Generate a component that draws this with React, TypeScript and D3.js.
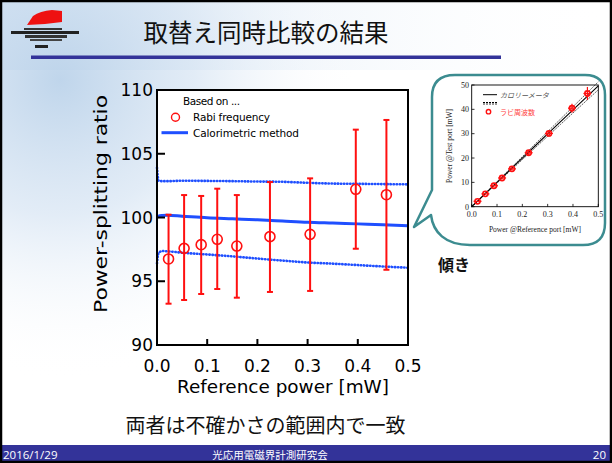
import React from "react";
import * as d3 from "d3";

// Rabi-frequency measurements: reference power [mW] and splitting ratio with error limits
const refPower = [0.023, 0.054, 0.088, 0.12, 0.159, 0.225, 0.305, 0.396, 0.457];
const rabiRatio = [96.75, 97.58, 97.87, 98.29, 97.76, 98.5, 98.68, 102.21, 101.79];
const rabiHigh = [100.22, 101.76, 101.69, 102.26, 101.76, 102.78, 103.07, 106.89, 107.65];
const rabiLow = [93.24, 93.53, 94.0, 94.39, 93.71, 94.16, 94.24, 97.55, 95.9];

// Calorimetric method: ratio curve with its upper / lower uncertainty bounds
const calPower = [0, 0.003, 0.01, 0.02, 0.05, 0.1, 0.15, 0.2, 0.25, 0.3, 0.35, 0.4, 0.45, 0.5];
const calRatio = [100.0, 100.1, 100.15, 100.17, 100.1, 99.98, 99.9, 99.82, 99.72, 99.62, 99.56, 99.5, 99.44, 99.36];
const calUpper = [103.9, 102.9, 102.85, 102.85, 102.88, 102.87, 102.85, 102.82, 102.8, 102.72, 102.66, 102.64, 102.62, 102.6];
const calLower = [96.4, 97.2, 97.37, 97.35, 97.24, 97.1, 96.95, 96.78, 96.62, 96.47, 96.38, 96.27, 96.16, 96.06];

const xTicks = [0, 0.1, 0.2, 0.3, 0.4, 0.5];
const yTicks = [90, 95, 100, 105, 110];
const insetXTicks = [0, 0.1, 0.2, 0.3, 0.4, 0.5];
const insetYTicks = [0, 10, 20, 30, 40, 50];

const title = "取替え同時比較の結果";
const conclusion = "両者は不確かさの範囲内で一致";
const footerDate = "2016/1/29";
const footerName = "光応用電磁界計測研究会";
const pageNo = "20";

const LATIN = "'DejaVu Sans', 'Open Sans', sans-serif";
const JP = "'Noto Sans CJK JP', sans-serif";
const SERIF = "'Liberation Serif', 'DejaVu Serif', serif";

export default function App() {
  const x = d3.scaleLinear().domain([0, 0.5]).range([157, 408]);
  const y = d3.scaleLinear().domain([90, 110]).range([345, 90]);

  const calLine = (vals: number[]) =>
    d3
      .line<number>()
      .x((_, i) => x(calPower[i]))
      .y((v) => y(v))
      .curve(d3.curveMonotoneX)(vals) as string;

  // inset: test-port power = reference power × ratio (ratio in %, power in mW → ×100)
  const ix = d3.scaleLinear().domain([0, 0.5]).range([471.7, 598.3]);
  const iy = d3.scaleLinear().domain([0, 50]).range([206.7, 85]);
  const insetLine = (vals: number[]) =>
    d3
      .line<number>()
      .x((_, i) => ix(calPower[i]))
      .y((v, i) => iy(calPower[i] * v))(vals) as string;

  const blue = "#1f4fff";
  const red = "#ff1010";

  return (
    <svg
      width={612}
      height={463}
      viewBox="0 0 612 463"
      style={{ position: "fixed", left: 0, top: 0, display: "block" }}
    >
      <defs>
        <radialGradient id="wash" cx="60" cy="80" r="300" gradientUnits="userSpaceOnUse">
          <stop offset="0" stopColor="#bcd3ea" stopOpacity={0.95} />
          <stop offset="0.45" stopColor="#d6e4f3" stopOpacity={0.7} />
          <stop offset="1" stopColor="#ffffff" stopOpacity={0} />
        </radialGradient>
        <linearGradient id="band" x1="0" x2="1" y1="0" y2="0">
          <stop offset="0" stopColor="#c7dbee" stopOpacity={0.9} />
          <stop offset="0.5" stopColor="#e6eff8" stopOpacity={0.5} />
          <stop offset="1" stopColor="#ffffff" stopOpacity={0} />
        </linearGradient>
      </defs>

      {/* slide background */}
      <rect x={0} y={0} width={612} height={463} fill="#ffffff" />
      <rect x={0} y={0} width={612} height={70} fill="url(#band)" />
      <rect x={0} y={0} width={612} height={445} fill="url(#wash)" />

      {/* logo */}
      <path d="M27,25 L33,16 Q40,11 52,10 L62,11 L62,22 L45,24 Z" fill="#ee1111" />
      <rect x={24} y={28} width={38} height={2} fill="#333" />
      <rect x={11} y={31} width={68} height={3} fill="#222" />
      <rect x={25} y={35} width={42} height={3} fill="#333" />
      <rect x={30} y={39} width={32} height={2} fill="#444" />
      <rect x={35} y={45} width={13} height={3} fill="#222" />

      {/* title */}
      <text x={266} y={42} textAnchor="middle" fontFamily={JP} fontSize={24.5} fill="#111">
        {title}
      </text>
      <rect x={31} y={55.5} width={470} height={3.5} fill="#333399" />

      {/* main plot */}
      <rect x={157} y={90} width={251} height={255} fill="#ffffff" />

      {/* calorimetric curves */}
      <path
        d={calLine(calUpper)}
        fill="none"
        stroke={blue}
        strokeWidth={2.6}
        strokeLinecap="round"
        strokeDasharray="0.4 2.7"
      />
      <path
        d={calLine(calLower)}
        fill="none"
        stroke={blue}
        strokeWidth={2.6}
        strokeLinecap="round"
        strokeDasharray="0.4 2.7"
      />
      <path d={calLine(calRatio)} fill="none" stroke={blue} strokeWidth={3} />

      {/* Rabi-frequency points with error bars */}
      {refPower.map((p, i) => (
        <g key={i} stroke={red} fill="none">
          <line x1={x(p)} x2={x(p)} y1={y(rabiLow[i])} y2={y(rabiHigh[i])} strokeWidth={2} />
          <line x1={x(p) - 3} x2={x(p) + 3} y1={y(rabiLow[i])} y2={y(rabiLow[i])} strokeWidth={2} />
          <line x1={x(p) - 3} x2={x(p) + 3} y1={y(rabiHigh[i])} y2={y(rabiHigh[i])} strokeWidth={2} />
          <circle cx={x(p)} cy={y(rabiRatio[i])} r={5} strokeWidth={1.6} />
        </g>
      ))}

      {/* frame and ticks */}
      <rect x={157} y={90} width={251} height={255} fill="none" stroke="#000" strokeWidth={2} />
      {yTicks.map((t) => (
        <g key={t}>
          <line x1={157} x2={165} y1={y(t)} y2={y(t)} stroke="#000" strokeWidth={2} />
          <text x={153} y={y(t) + 6} textAnchor="end" fontFamily={LATIN} fontSize={17} fill="#000">
            {t}
          </text>
        </g>
      ))}
      {xTicks.map((t) => (
        <g key={t}>
          <line x1={x(t)} x2={x(t)} y1={345} y2={339} stroke="#000" strokeWidth={2} />
          <text x={x(t)} y={372} textAnchor="middle" fontFamily={LATIN} fontSize={17} fill="#000">
            {t.toFixed(1)}
          </text>
        </g>
      ))}
      <text
        x={283}
        y={393}
        textAnchor="middle"
        fontFamily={LATIN}
        fontSize={17}
        textLength={212}
        lengthAdjust="spacingAndGlyphs"
        fill="#000"
      >
        Reference power [mW]
      </text>
      <text
        transform="translate(107,204) rotate(-90)"
        textAnchor="middle"
        fontFamily={LATIN}
        fontSize={18}
        textLength={218}
        lengthAdjust="spacingAndGlyphs"
        fill="#000"
      >
        Power-splitting ratio
      </text>

      {/* legend */}
      <text x={183} y={105} fontFamily={LATIN} fontSize={10.5} fill="#000" textLength={57}>
        Based on ...
      </text>
      <circle cx={175.5} cy={117.3} r={4} fill="none" stroke={red} strokeWidth={1.4} />
      <text x={193} y={121} fontFamily={LATIN} fontSize={10.5} fill="#000" textLength={77}>
        Rabi frequency
      </text>
      <line x1={161.5} x2={188} y1={132.7} y2={132.7} stroke={blue} strokeWidth={3} />
      <text x={193} y={136.5} fontFamily={LATIN} fontSize={10.5} fill="#000" textLength={106}>
        Calorimetric method
      </text>

      {/* callout bubble */}
      <path
        d="M455,75 H585 Q605,75 605,95 V223 Q605,245 583,245 H470 C445,245 433,232 431,215 L414,227 L432,190 V97 Q432,75 455,75 Z"
        fill="#ffffff"
        stroke="#3c8c90"
        strokeWidth={2.5}
        strokeLinejoin="round"
      />

      {/* inset plot */}
      <path d={insetLine(calUpper)} fill="none" stroke="#333" strokeWidth={0.8} strokeDasharray="2 1" />
      <path d={insetLine(calLower)} fill="none" stroke="#333" strokeWidth={0.8} strokeDasharray="2 1" />
      <path d={insetLine(calRatio)} fill="none" stroke="#000" strokeWidth={1.1} />
      {refPower.map((p, i) => {
        const cx = ix(p);
        const cy = iy(p * rabiRatio[i]);
        return (
          <g key={i} stroke={red} fill="none">
            <line x1={cx} x2={cx} y1={iy(p * rabiLow[i])} y2={iy(p * rabiHigh[i])} strokeWidth={1.2} />
            <line x1={cx - 4} x2={cx + 4} y1={cy} y2={cy} strokeWidth={1.2} />
            <circle cx={cx} cy={cy} r={2.6} strokeWidth={1.6} />
          </g>
        );
      })}
      <rect x={471.7} y={85} width={126.6} height={121.7} fill="none" stroke="#000" strokeWidth={0.9} />
      {insetYTicks.map((t) => (
        <g key={t}>
          <line x1={471.7} x2={474.5} y1={iy(t)} y2={iy(t)} stroke="#000" strokeWidth={0.8} />
          <text x={469} y={iy(t) + 2.8} textAnchor="end" fontFamily={SERIF} fontSize={8} fill="#222">
            {t}
          </text>
        </g>
      ))}
      {insetXTicks.map((t) => (
        <g key={t}>
          <line x1={ix(t)} x2={ix(t)} y1={206.7} y2={203.9} stroke="#000" strokeWidth={0.8} />
          <text x={ix(t)} y={217} textAnchor="middle" fontFamily={SERIF} fontSize={8} fill="#222">
            {t.toFixed(1)}
          </text>
        </g>
      ))}
      <text x={535} y={232} textAnchor="middle" fontFamily={SERIF} fontSize={7.5} fill="#222">
        Power @Reference port [mW]
      </text>
      <text
        transform="translate(452,146) rotate(-90)"
        textAnchor="middle"
        fontFamily={SERIF}
        fontSize={7.5}
        fill="#222"
      >
        Power @Test port [mW]
      </text>
      {/* inset legend */}
      <line x1={483} x2={497} y1={94.7} y2={94.7} stroke="#000" strokeWidth={1} />
      <text x={500} y={97.5} fontFamily={JP} fontSize={7} fill="#555" fontStyle="italic">
        カロリーメータ
      </text>
      <line x1={483} x2={497} y1={102.5} y2={102.5} stroke="#000" strokeWidth={1} strokeDasharray="2 1" />
      <line x1={483} x2={497} y1={104} y2={104} stroke="#000" strokeWidth={0.8} strokeDasharray="2 1" />
      <circle cx={488.5} cy={111.7} r={2.2} fill="none" stroke={red} strokeWidth={1.4} />
      <text x={500} y={114.5} fontFamily={JP} fontSize={7} fill="#ff4040">
        ラビ周波数
      </text>

      <text x={438} y={271} fontFamily={JP} fontSize={16} fontWeight={700} fill="#111">
        傾き
      </text>

      {/* conclusion */}
      <text x={265.5} y={433} textAnchor="middle" fontFamily={JP} fontSize={20} fill="#111">
        {conclusion}
      </text>

      {/* footer */}
      <rect x={0} y={445} width={612} height={18} fill="#333399" />
      <text x={3} y={458.5} fontFamily="'Open Sans', sans-serif" fontSize={11.5} fill="#ffffff">
        {footerDate}
      </text>
      <text x={270} y={458.5} textAnchor="middle" fontFamily={JP} fontSize={10.5} fill="#ffffff">
        {footerName}
      </text>
      <text x={606} y={458.5} textAnchor="end" fontFamily="'Open Sans', sans-serif" fontSize={11.5} fill="#ffffff">
        {pageNo}
      </text>

      {/* slide border */}
      <rect x={1} y={1} width={610} height={461} fill="none" stroke="#000" strokeWidth={2.5} />
    </svg>
  );
}
